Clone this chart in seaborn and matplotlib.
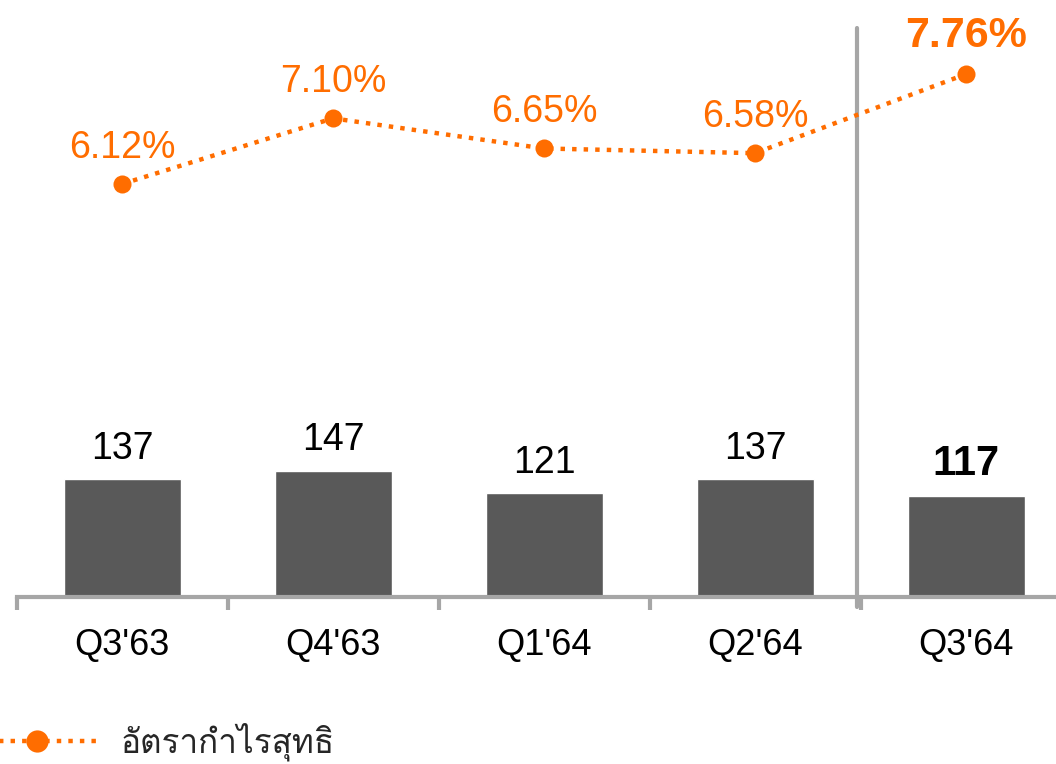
import numpy as np
import pandas as pd
import seaborn as sns
import matplotlib.pyplot as plt
from matplotlib import font_manager
from matplotlib.ft2font import FT2Font
from matplotlib.lines import Line2D

# 数据
quarters = ["Q3'63", "Q4'63", "Q1'64", "Q2'64", "Q3'64"]
profit = [137, 147, 121, 137, 117]
margin = [6.12, 7.10, 6.65, 6.58, 7.76]
legend_label = "อัตรากำไรสุทธิ"

orange = '#FF6D00'
bar_grey = '#595959'
axis_grey = '#A6A6A6'


# 找一个能显示泰文的字体
def thai_font():
    for f in font_manager.fontManager.ttflist:
        try:
            if FT2Font(f.fname).get_char_index(ord('ก')):
                return f.name
        except Exception:
            pass
    return 'DejaVu Sans'


sns.set_style('white')
plt.rcParams['font.family'] = ['Liberation Sans', 'DejaVu Sans']

df = pd.DataFrame({'quarter': quarters, 'profit': profit, 'margin': margin})

fig = plt.figure(figsize=(10.56, 7.64), dpi=100)
ax = fig.add_axes([16.5 / 1056, 167 / 764, 1 - 16.5 / 1056, 597 / 764])

sns.barplot(data=df, x='quarter', y='profit', color=bar_grey, width=117 / 211,
            saturation=1, ax=ax)
ax.set_xlim(-0.5, 4.4265)
ax.set_ylim(0, 695)

# 柱子数值标签
for i, v in enumerate(profit):
    last = i == len(profit) - 1
    ax.annotate(str(v), (i, v), xytext=(0, 9), textcoords='offset points',
                ha='center', va='bottom', fontsize=30 if last else 27,
                fontweight='bold' if last else 'normal', color='black')

# 坐标轴样式
for s in ['top', 'right', 'left']:
    ax.spines[s].set_visible(False)
ax.spines['bottom'].set_color(axis_grey)
ax.spines['bottom'].set_linewidth(3)
ax.set_yticks([])
ax.set_xlabel('')
ax.set_ylabel('')
ax.set_xticks(np.arange(len(quarters)))
ax.set_xticklabels(quarters, fontsize=26, color='black')
ax.tick_params(axis='x', which='major', length=0, pad=22)
ax.set_xticks(np.arange(-0.5, len(quarters) - 1, 1), minor=True)
ax.tick_params(axis='x', which='minor', bottom=True, length=9, width=3,
               color=axis_grey, direction='out')

# 分隔线
ax.plot([3.485, 3.485], [-12, 662], color=axis_grey, lw=3, clip_on=False,
        zorder=1)

# 净利率折线
ax2 = ax.twinx()
ax2.set_ylim(-0.044, 8.866)
sns.lineplot(x=np.arange(len(quarters)), y=margin, ax=ax2, color=orange,
             linestyle=(0, (1, 1.6)), linewidth=3.2, marker='o', markersize=13,
             markeredgewidth=0, zorder=5)
for s in ax2.spines.values():
    s.set_visible(False)
ax2.set_yticks([])
ax2.set_ylabel('')

for i, v in enumerate(margin):
    last = i == len(margin) - 1
    ax2.annotate(f'{v:.2f}%', (i, v), xytext=(0, 13), textcoords='offset points',
                 ha='center', va='bottom', fontsize=31 if last else 27,
                 fontweight='bold' if last else 'normal', color=orange)

# 图例
handle = Line2D([], [], color=orange, linestyle=(0, (1, 1.6)), linewidth=3.2,
                marker='o', markersize=16, markeredgewidth=0)
leg = fig.legend([handle], [legend_label], loc='center left',
                 bbox_to_anchor=(-28 / 1056, 22 / 764), frameon=False,
                 handlelength=3.9, handletextpad=0.55, borderpad=0,
                 borderaxespad=0, prop={'family': [thai_font(), 'DejaVu Sans'], 'size': 24})

plt.savefig('out.png', dpi=100)
